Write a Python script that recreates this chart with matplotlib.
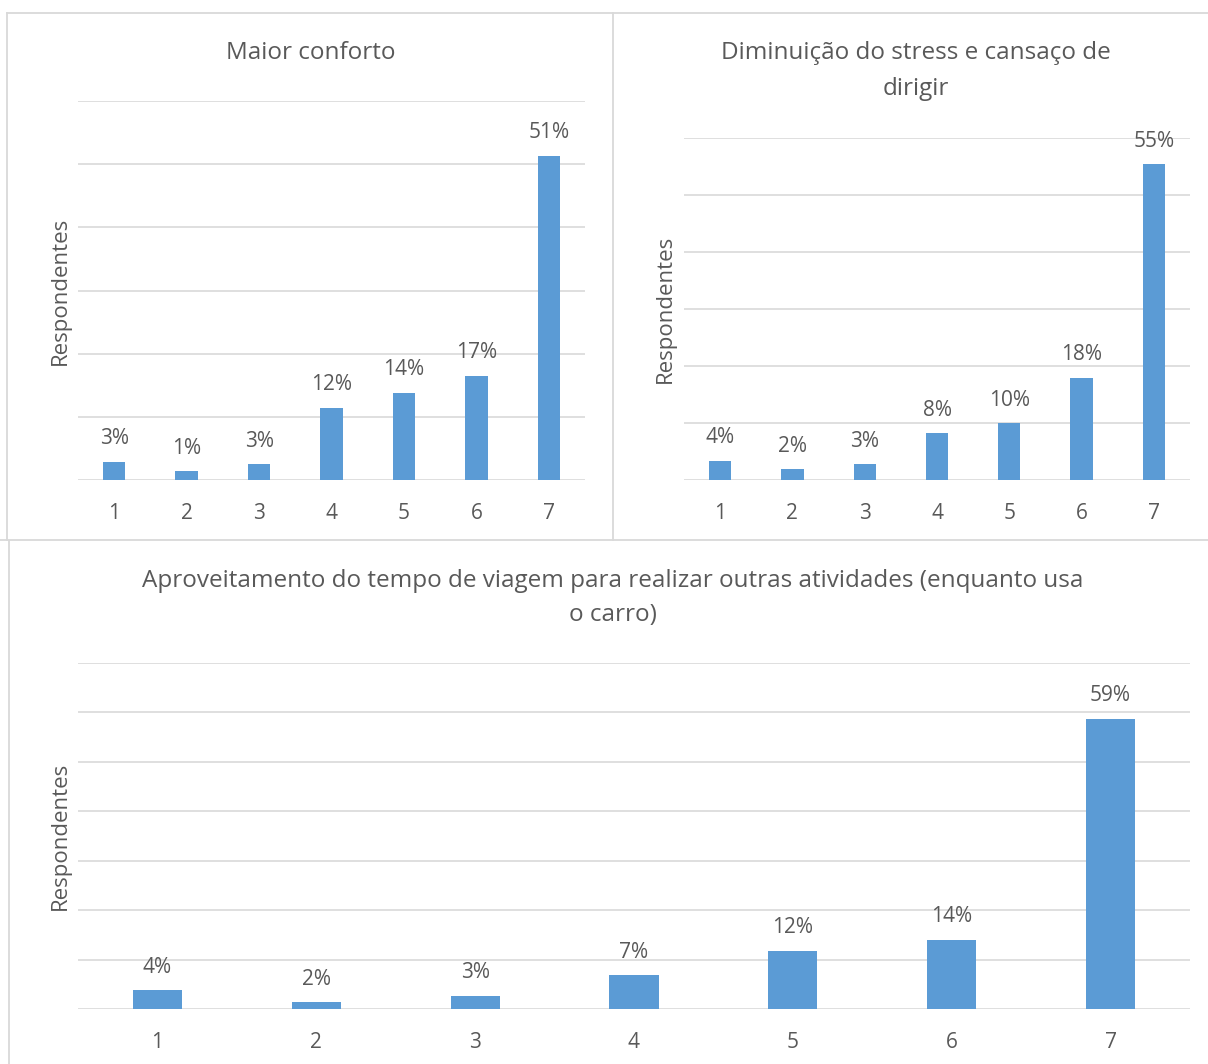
import matplotlib

matplotlib.use("Agg")
import matplotlib.pyplot as plt
from matplotlib.lines import Line2D

plt.rcParams["font.family"] = ["Open Sans", "DejaVu Sans"]

W, H = 1208, 1064
TXT = "#595959"
BAR = "#5B9BD5"
GRID = "#D9D9D9"

cats = ["1", "2", "3", "4", "5", "6", "7"]
conforto = [3, 1, 3, 12, 14, 17, 51]
conforto_h = [2.9, 1.4, 2.5, 11.4, 13.8, 16.5, 51.3]
stress = [4, 2, 3, 8, 10, 18, 55]
stress_h = [3.4, 1.9, 2.8, 8.2, 10.0, 17.9, 55.4]
viagem = [4, 2, 3, 7, 12, 14, 59]
viagem_h = [3.8, 1.4, 2.7, 6.8, 11.8, 14.0, 58.7]

fig = plt.figure(figsize=(W / 100, H / 100), dpi=100)


def px_axes(x0, y0, x1, y1):
    # pixel box (top-left origin) -> figure fraction
    return fig.add_axes([x0 / W, 1 - y1 / H, (x1 - x0) / W, (y1 - y0) / H])


def panel(ax, heights, labels, ymax, title, title_y, title_x, ylab_x, ylab_y, ls=1.5):
    x = range(len(cats))
    ax.bar(x, heights, width=0.31, color=BAR, zorder=3)
    for i, (h, lab) in enumerate(zip(heights, labels)):
        ax.annotate(f"{lab}%", (i, h), xytext=(0, 9), textcoords="offset points",
                    ha="center", va="bottom", fontsize=15, color=TXT)
    ax.set_ylim(0, ymax)
    ax.set_xlim(-0.5, len(cats) - 0.5)
    ax.set_yticks(range(0, ymax + 1, 10))
    ax.set_yticklabels([])
    ax.set_xticks(list(x))
    ax.set_xticklabels(cats, fontsize=15, color=TXT)
    ax.tick_params(length=0, pad=16.5)
    ax.grid(True, axis="y", color=GRID, lw=1.2, zorder=0)
    for s in ax.spines.values():
        s.set_visible(False)
    fig.text(title_x / W, 1 - title_y / H, title, ha="center", va="center",
             fontsize=17.5, color=TXT, linespacing=ls)
    fig.text(ylab_x / W, 1 - ylab_y / H, "Respondentes", rotation=90,
             ha="center", va="center", fontsize=16, color=TXT)


ax1 = px_axes(78, 101, 585, 480)
panel(ax1, conforto_h, conforto, 60, "Maior conforto", 53, 311, 60, 291)

ax2 = px_axes(684, 138, 1190, 480)
panel(ax2, stress_h, stress, 60, "Diminuição do stress e cansaço de\ndirigir",
      71, 916, 665, 309, ls=1.68)

ax3 = px_axes(78, 663, 1190, 1009)
panel(ax3, viagem_h, viagem, 70,
      "Aproveitamento do tempo de viagem para realizar outras atividades (enquanto usa\no carro)",
      598, 613, 60, 836, ls=1.55)

# panel borders
def hline(y, x0, x1):
    fig.add_artist(Line2D([x0 / W, x1 / W], [1 - y / H, 1 - y / H], color=GRID, lw=1.3))


def vline(x, y0, y1):
    fig.add_artist(Line2D([x / W, x / W], [1 - y0 / H, 1 - y1 / H], color=GRID, lw=1.3))


hline(13, 7, W)
vline(7, 13, 540)
vline(613, 13, 540)
hline(540, 0, W)
vline(9, 541, H)

fig.savefig("out.png", dpi=100)
